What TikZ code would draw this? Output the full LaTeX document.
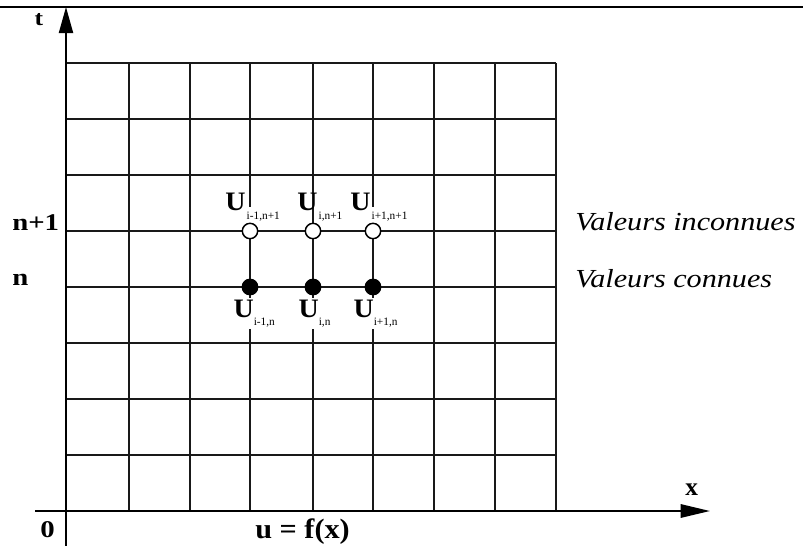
\documentclass[tikz,border=0pt]{standalone}
\usepackage{fontspec}
\setmainfont{Liberation Serif}
\usetikzlibrary{arrows.meta}
% horizontally widened text
\newcommand\hstretch[2][1.2]{\scalebox{#1}[1]{#2}}
\newcommand\subtxt[1]{\raisebox{-6.5pt}{\fontsize{8.5}{8.5}\selectfont\mdseries #1}}
\begin{document}
\begin{tikzpicture}[x=0.75pt,y=-0.75pt,
  gridline/.style={line width=1.25pt,draw=black!90},
  axisline/.style={line width=1.5pt},
  boldlab/.style={font=\fontsize{18}{18}\selectfont\bfseries,inner sep=0pt},
  legend/.style={font=\fontsize{19.5}{19.5}\selectfont\itshape,inner sep=0pt,anchor=base west},
  ulet/.style={font=\fontsize{20}{20}\selectfont\bfseries,inner sep=0pt,anchor=base west},
  usub/.style={font=\fontsize{8.5}{8.5}\selectfont,fill=white,inner xsep=0.5pt,inner ysep=3pt,anchor=base west},
  ulab/.style={font=\fontsize{20}{20}\selectfont\bfseries,fill=white,inner sep=1pt,anchor=base west},
  unknownpt/.style={circle,draw,line width=1.1pt,fill=white,minimum size=11.5pt,inner sep=0pt},
  knownpt/.style={circle,draw,line width=1.1pt,fill=black,minimum size=11.5pt,inner sep=0pt}
]
\useasboundingbox (0,0) rectangle (803,546);

% rule across the top
\coordinate (ruleL) at (0,7);
\coordinate (ruleR) at (803,7);
\draw[line width=1.5pt] (ruleL) -- (ruleR);

% mesh
\foreach \gx in {129,190,250,313,373,434,495,556}
  \draw[gridline] (\gx,63) -- (\gx,511);
\foreach \gy in {63,119,175,231,287,343,399,455}
  \draw[gridline] (66,\gy) -- (556,\gy);

% axes
\coordinate (xstart) at (35,511);
\coordinate (xend) at (710,511);
\coordinate (tstart) at (66,546);
\coordinate (tend) at (66,7);
\draw[axisline,-{Triangle[length=22pt,width=10pt]}] (xstart) -- (xend);
\draw[axisline,-{Triangle[length=19.5pt,width=10.5pt]}] (tstart) -- (tend);

% axis labels
\node[boldlab,font=\fontsize{16}{16}\selectfont\bfseries,anchor=base] (tlab) at (39,26) {\hstretch{t}};
\node[boldlab,font=\fontsize{19}{19}\selectfont\bfseries,anchor=base west] (xlab) at (685,495) {x};
\node[boldlab,anchor=base west] (np1) at (12,230) {\hstretch{n+1}};
\node[boldlab,anchor=base west] (nlab) at (12,285) {\hstretch{n}};
\node[boldlab,anchor=base west] (zero) at (40,537) {\hstretch[1.2]{0}};
\node[boldlab,font=\fontsize{21}{21}\selectfont\bfseries,anchor=base west] (init) at (255,538) {\hstretch[1.08]{u = f(x)}};

% legend
\node[legend] (leg1) at (575,230) {\hstretch[1.16]{Valeurs inconnues}};
\node[legend] (leg2) at (575,287) {\hstretch[1.16]{Valeurs connues}};

% labels of the unknown values (level n+1)
\node[ulet] (U1) at (225,210) {\hstretch[1.05]{U}};
\node[usub] (s1) at (U1.base east |- 0,219) {i-1,n+1};
\node[ulet] (U2) at (297,210) {\hstretch[1.05]{U}};
\node[usub] (s2) at (U2.base east |- 0,219) {i,n+1};
\node[ulet] (U3) at (350,210) {\hstretch[1.05]{U}};
\node[usub] (s3) at (U3.base east |- 0,219) {i+1,n+1};

% labels of the known values (level n)
\node[ulab] (V1) at (232,317) {\hstretch[1.05]{U}\subtxt{i-1,n}};
\node[ulab] (V2) at (297,317) {\hstretch[1.05]{U}\subtxt{i,n}};
\node[ulab] (V3) at (352,317) {\hstretch[1.05]{U}\subtxt{i+1,n}};

% stencil points
\foreach \k/\px in {1/250,2/313,3/373} {
  \node[unknownpt] (o\k) at (\px,231) {};
  \node[knownpt] (f\k) at (\px,287) {};
}
\end{tikzpicture}
\end{document}
